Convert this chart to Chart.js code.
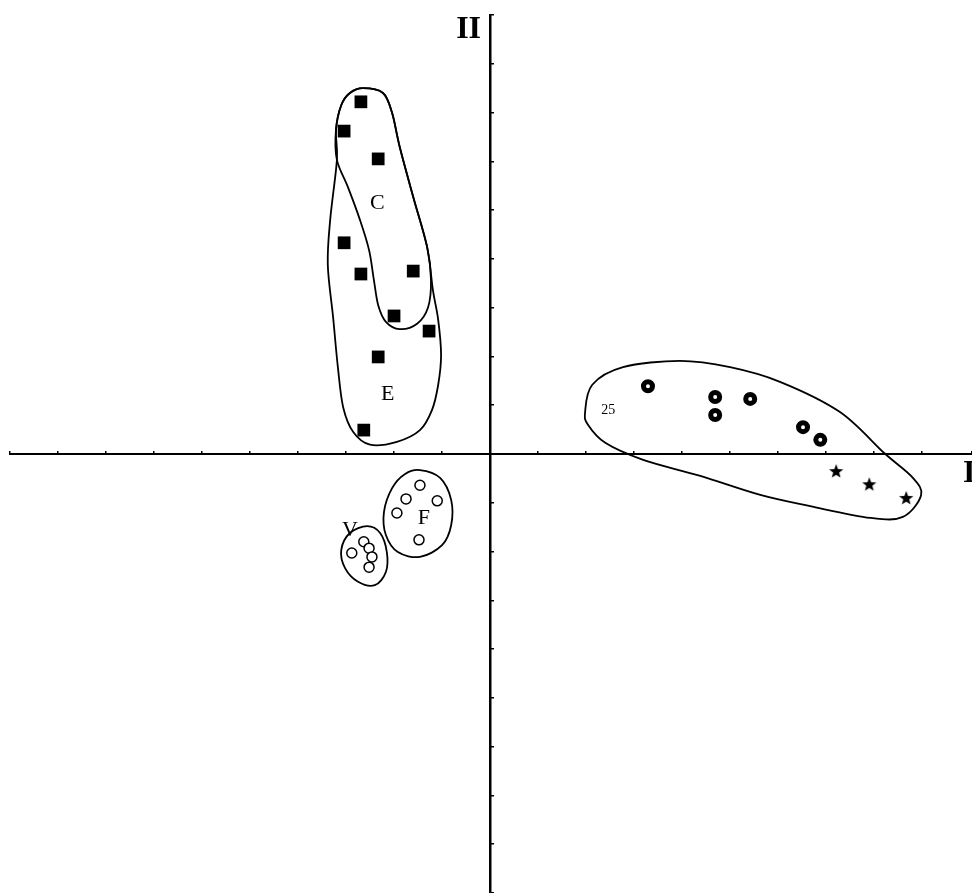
<!DOCTYPE html>
<html>
<head>
<meta charset="utf-8">
<script src="https://cdn.jsdelivr.net/npm/chart.js@4/dist/chart.umd.min.js"></script>
<style>
  html, body { margin: 0; padding: 0; background: #fff; overflow: hidden; }
  #wrap { width: 972px; height: 893px; position: relative; }
</style>
</head>
<body>
<div id="wrap"><canvas id="plot"></canvas></div>
<script>
// Factor scores, axis I (x) against axis II (y)

// groups C and E – filled squares
const squareX = [-2.69, -3.04, -2.33, -3.04, -2.69, -1.60, -2.00, -1.27, -2.33, -2.63];
const squareY = [7.22, 6.62, 6.05, 4.33, 3.69, 3.75, 2.83, 2.52, 1.99, 0.49];

// group F – open circles
const circleFX = [-1.46, -1.75, -1.10, -1.94, -1.48];
const circleFY = [-0.64, -0.92, -0.96, -1.21, -1.76];

// group V – open circles
const circleVX = [-2.63, -2.52, -2.88, -2.46, -2.52];
const circleVY = [-1.80, -1.93, -2.03, -2.11, -2.32];

// ringed dots
const ringX = [3.29, 4.69, 4.69, 5.42, 6.52, 6.88];
const ringY = [1.39, 1.17, 0.80, 1.13, 0.55, 0.29];

// stars
const starX = [7.21, 7.90, 8.67];
const starY = [-0.35, -0.62, -0.90];

// hand-drawn group boundaries (closed curves through these points)
const outlineC = [[-2.65, 7.50], [-2.23, 7.40], [-2.04, 6.99], [-1.88, 6.29], [-1.60, 5.27], [-1.31, 4.24],
  [-1.23, 3.57], [-1.29, 3.01], [-1.52, 2.67], [-1.88, 2.56], [-2.17, 2.71], [-2.33, 3.05], [-2.42, 3.57],
  [-2.52, 4.18], [-2.71, 4.80], [-2.96, 5.47], [-3.19, 6.03], [-3.21, 6.64], [-3.10, 7.15], [-2.92, 7.40]];
const outlineE = [[-2.65, 7.50], [-2.23, 7.40], [-2.04, 6.99], [-1.88, 6.29], [-1.60, 5.27], [-1.31, 4.24],
  [-1.19, 3.36], [-1.08, 2.75], [-1.02, 2.03], [-1.08, 1.42], [-1.21, 0.90], [-1.46, 0.49], [-1.94, 0.25],
  [-2.50, 0.19], [-2.85, 0.45], [-3.06, 0.96], [-3.17, 1.78], [-3.27, 2.81], [-3.38, 3.88], [-3.33, 4.80],
  [-3.19, 6.03], [-3.21, 6.64], [-3.10, 7.15], [-2.92, 7.40]];
const outlineF = [[-1.46, -0.33], [-1.04, -0.49], [-0.81, -0.94], [-0.81, -1.46], [-1.00, -1.87], [-1.46, -2.11],
  [-1.92, -2.01], [-2.17, -1.66], [-2.21, -1.19], [-2.04, -0.70], [-1.77, -0.41]];
const outlineV = [[-2.56, -1.48], [-2.29, -1.62], [-2.15, -2.01], [-2.17, -2.42], [-2.40, -2.69], [-2.75, -2.62],
  [-3.02, -2.34], [-3.10, -1.97], [-2.92, -1.62]];
const outlineRight = [[1.98, 0.86], [2.13, 1.42], [2.77, 1.78], [3.96, 1.91], [5.00, 1.78], [6.04, 1.48],
  [7.29, 0.86], [8.21, 0.02], [8.79, -0.47], [8.98, -0.84], [8.60, -1.29], [7.92, -1.31], [6.67, -1.07],
  [5.63, -0.84], [4.38, -0.45], [3.19, -0.12], [2.40, 0.23], [2.04, 0.60]];

// text placed inside the plot
const groupLabels = ['C', 'E', 'F', 'V', '25'];
const groupLabelX = [-2.35, -2.13, -1.38, -2.92, 2.46];
const groupLabelY = [5.15, 1.23, -1.31, -1.56, 0.90];

const AXIS_X = { min: -10, max: 10.04 };
const AXIS_Y = { min: -9, max: 9 };

const SERIF = '"Liberation Serif", "DejaVu Serif", serif';

function zip(xs, ys) {
  return xs.map((x, i) => ({ x, y: ys[i] }));
}

// small filled five-point star used as a point style
function makeStar(size) {
  const c = document.createElement('canvas');
  c.width = size; c.height = size;
  const g = c.getContext('2d');
  const cx = size / 2, cy = size / 2 + 0.5;
  const ro = size / 2 - 0.5, ri = ro * 0.42;
  g.beginPath();
  for (let i = 0; i < 10; i++) {
    const r = i % 2 ? ri : ro;
    const a = -Math.PI / 2 + i * Math.PI / 5;
    g.lineTo(cx + r * Math.cos(a), cy + r * Math.sin(a));
  }
  g.closePath();
  g.fillStyle = '#000';
  g.fill();
  return c;
}

// closed Catmull-Rom curve through the given points (data units)
function drawClosedCurve(ctx, xs, ys, pts) {
  const p = pts.map(([x, y]) => [xs.getPixelForValue(x), ys.getPixelForValue(y)]);
  const n = p.length;
  ctx.beginPath();
  ctx.moveTo(p[0][0], p[0][1]);
  for (let i = 0; i < n; i++) {
    const p0 = p[(i - 1 + n) % n], p1 = p[i], p2 = p[(i + 1) % n], p3 = p[(i + 2) % n];
    ctx.bezierCurveTo(
      p1[0] + (p2[0] - p0[0]) / 6, p1[1] + (p2[1] - p0[1]) / 6,
      p2[0] - (p3[0] - p1[0]) / 6, p2[1] - (p3[1] - p1[1]) / 6,
      p2[0], p2[1]);
  }
  ctx.closePath();
  ctx.stroke();
}

const annotations = {
  id: 'annotations',
  afterDatasetsDraw(chart) {
    const { ctx, chartArea } = chart;
    const xs = chart.scales.x, ys = chart.scales.y;
    ctx.save();
    ctx.strokeStyle = '#000';
    ctx.lineWidth = 1.8;
    [outlineC, outlineE, outlineF, outlineV, outlineRight].forEach(o => drawClosedCurve(ctx, xs, ys, o));

    ctx.fillStyle = '#000';
    ctx.textAlign = 'center';
    ctx.textBaseline = 'middle';
    groupLabels.forEach((t, i) => {
      ctx.font = (t === '25' ? '14px ' : '22px ') + SERIF;
      ctx.fillText(t, xs.getPixelForValue(groupLabelX[i]), ys.getPixelForValue(groupLabelY[i]));
    });

    // axis names
    const x0 = xs.getPixelForValue(0), y0 = ys.getPixelForValue(0);
    ctx.font = 'bold 32px ' + SERIF;
    ctx.textBaseline = 'alphabetic';
    ctx.textAlign = 'right';
    ctx.fillText('II', x0 - 9, chartArea.top + 23);
    ctx.textAlign = 'left';
    ctx.fillText('I', chartArea.right - 9, y0 + 28);
    ctx.restore();
  },
};

const axisCommon = {
  type: 'linear',
  ticks: { display: false, stepSize: 1 },
  grid: { drawOnChartArea: false, drawTicks: true, color: '#000', tickColor: '#000', lineWidth: 1.5 },
};

new Chart(document.getElementById('plot'), {
  type: 'scatter',
  data: {
    datasets: [
      {
        label: 'C / E', data: zip(squareX, squareY), pointStyle: 'rect',
        pointRadius: 9, backgroundColor: '#000', borderColor: '#000', borderWidth: 0,
      },
      {
        label: 'F', data: zip(circleFX, circleFY), pointStyle: 'circle',
        pointRadius: 5, backgroundColor: '#fff', borderColor: '#000', borderWidth: 1.5,
      },
      {
        label: 'V', data: zip(circleVX, circleVY), pointStyle: 'circle',
        pointRadius: 5, backgroundColor: '#fff', borderColor: '#000', borderWidth: 1.5,
      },
      {
        label: 'rings', data: zip(ringX, ringY), pointStyle: 'circle',
        pointRadius: 4.5, backgroundColor: '#fff', borderColor: '#000', borderWidth: 5,
      },
      {
        label: 'stars', data: zip(starX, starY), pointStyle: makeStar(16),
        pointRadius: 8,
      },
    ],
  },
  options: {
    responsive: true, maintainAspectRatio: false, animation: false,
    layout: { autoPadding: false, padding: { left: 10, top: 15, right: 0, bottom: 0 } },
    plugins: { legend: { display: false }, tooltip: { enabled: false } },
    scales: {
      x: {
        ...axisCommon, min: AXIS_X.min, max: AXIS_X.max, position: { y: 0 },
        grid: { ...axisCommon.grid, tickLength: -4 },
        border: { display: true, color: '#000', width: 2 },
        afterFit(s) { s.height = 0; },
      },
      y: {
        ...axisCommon, min: AXIS_Y.min, max: AXIS_Y.max, position: { x: 0 },
        grid: { ...axisCommon.grid, tickLength: -5 },
        border: { display: true, color: '#000', width: 2.5 },
        afterFit(s) { s.width = 0; },
      },
    },
  },
  plugins: [annotations],
});
</script>
</body>
</html>
